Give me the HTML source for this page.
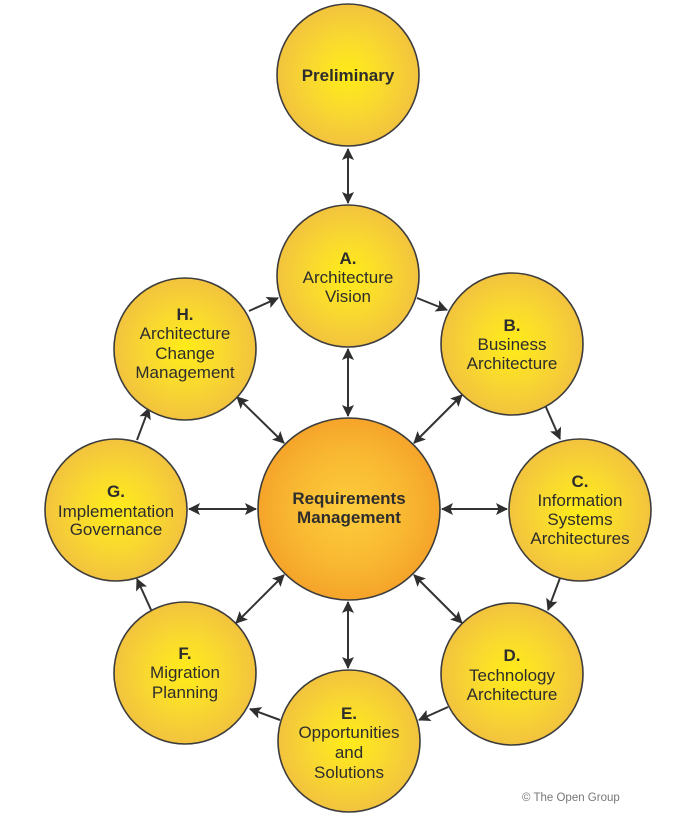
<!DOCTYPE html>
<html>
<head>
<meta charset="utf-8">
<style>
  html, body { margin: 0; padding: 0; background: #ffffff; }
  svg { display: block; }
  text { font-family: "Liberation Sans", Arial, sans-serif; fill: #2d2d2d; }
</style>
</head>
<body>
<svg width="700" height="825" viewBox="0 0 700 825" xmlns="http://www.w3.org/2000/svg">
  <defs>
    <radialGradient id="gy" cx="50%" cy="50%" r="50%">
      <stop offset="0%" stop-color="#ffec18"/>
      <stop offset="55%" stop-color="#f9d830"/>
      <stop offset="100%" stop-color="#f2c33e"/>
    </radialGradient>
    <radialGradient id="go" cx="50%" cy="50%" r="50%">
      <stop offset="0%" stop-color="#fdcd3c"/>
      <stop offset="60%" stop-color="#f9b932"/>
      <stop offset="100%" stop-color="#f5a42a"/>
    </radialGradient>
    <marker id="ah" viewBox="0 0 12 12" refX="11" refY="6" markerWidth="12" markerHeight="12" markerUnits="userSpaceOnUse" orient="auto-start-reverse">
      <path d="M0,0 L12,6 L0,12 L2.5,6 z" fill="#2f2f2f"/>
    </marker>
  </defs>

  <!-- connectors -->
  <g stroke="#333" stroke-width="2" fill="none">
    <line x1="348" y1="149" x2="348" y2="203" marker-start="url(#ah)" marker-end="url(#ah)"/>
    <line x1="348" y1="349" x2="348" y2="416" marker-start="url(#ah)" marker-end="url(#ah)"/>
    <line x1="348" y1="602" x2="348" y2="668" marker-start="url(#ah)" marker-end="url(#ah)"/>
    <line x1="442" y1="509" x2="507" y2="509" marker-start="url(#ah)" marker-end="url(#ah)"/>
    <line x1="189" y1="509" x2="256" y2="509" marker-start="url(#ah)" marker-end="url(#ah)"/>
    <line x1="414" y1="443" x2="462" y2="395" marker-start="url(#ah)" marker-end="url(#ah)"/>
    <line x1="414" y1="575" x2="462" y2="623" marker-start="url(#ah)" marker-end="url(#ah)"/>
    <line x1="284" y1="575" x2="236" y2="623" marker-start="url(#ah)" marker-end="url(#ah)"/>
    <line x1="284" y1="443" x2="237" y2="397" marker-start="url(#ah)" marker-end="url(#ah)"/>
    <line x1="417" y1="298" x2="447" y2="310" marker-end="url(#ah)"/>
    <line x1="545" y1="405" x2="560" y2="439" marker-end="url(#ah)"/>
    <line x1="560" y1="578" x2="548" y2="610" marker-end="url(#ah)"/>
    <line x1="448" y1="707" x2="419" y2="720" marker-end="url(#ah)"/>
    <line x1="280" y1="720" x2="250" y2="709" marker-end="url(#ah)"/>
    <line x1="152" y1="612" x2="137" y2="579" marker-end="url(#ah)"/>
    <line x1="137" y1="440" x2="149" y2="408" marker-end="url(#ah)"/>
    <line x1="249" y1="311" x2="278" y2="298" marker-end="url(#ah)"/>
  </g>

  <!-- circles -->
  <g stroke="#3c3c3c" stroke-width="1.6">
    <circle cx="348" cy="75" r="71" fill="url(#gy)"/>
    <circle cx="348" cy="276" r="71" fill="url(#gy)"/>
    <circle cx="512" cy="344" r="71" fill="url(#gy)"/>
    <circle cx="580" cy="510" r="71" fill="url(#gy)"/>
    <circle cx="512" cy="674" r="71" fill="url(#gy)"/>
    <circle cx="349" cy="741" r="71" fill="url(#gy)"/>
    <circle cx="185" cy="673" r="71" fill="url(#gy)"/>
    <circle cx="116" cy="510" r="71" fill="url(#gy)"/>
    <circle cx="185" cy="349" r="71" fill="url(#gy)"/>
    <circle cx="349" cy="509" r="91" fill="url(#go)"/>
  </g>

  <!-- labels -->
  <g font-size="17" text-anchor="middle">
    <text x="348" y="81" font-weight="bold">Preliminary</text>

    <text x="348" y="264" font-weight="bold">A.</text>
    <text x="348" y="283">Architecture</text>
    <text x="348" y="302">Vision</text>

    <text x="512" y="331" font-weight="bold">B.</text>
    <text x="512" y="350">Business</text>
    <text x="512" y="369">Architecture</text>

    <text x="580" y="487" font-weight="bold">C.</text>
    <text x="580" y="506">Information</text>
    <text x="580" y="525">Systems</text>
    <text x="580" y="544">Architectures</text>

    <text x="512" y="661" font-weight="bold">D.</text>
    <text x="512" y="681">Technology</text>
    <text x="512" y="700">Architecture</text>

    <text x="349" y="719" font-weight="bold">E.</text>
    <text x="349" y="738">Opportunities</text>
    <text x="349" y="758">and</text>
    <text x="349" y="778">Solutions</text>

    <text x="185" y="659" font-weight="bold">F.</text>
    <text x="185" y="678">Migration</text>
    <text x="185" y="698">Planning</text>

    <text x="116" y="497" font-weight="bold">G.</text>
    <text x="116" y="517">Implementation</text>
    <text x="116" y="535">Governance</text>

    <text x="185" y="320" font-weight="bold">H.</text>
    <text x="185" y="339">Architecture</text>
    <text x="185" y="359">Change</text>
    <text x="185" y="378">Management</text>

    <text x="349" y="504" font-weight="bold">Requirements</text>
    <text x="349" y="523" font-weight="bold">Management</text>
  </g>

  <text x="522" y="801" font-size="11.5" style="fill:#777">© The Open Group</text>
</svg>
</body>
</html>
